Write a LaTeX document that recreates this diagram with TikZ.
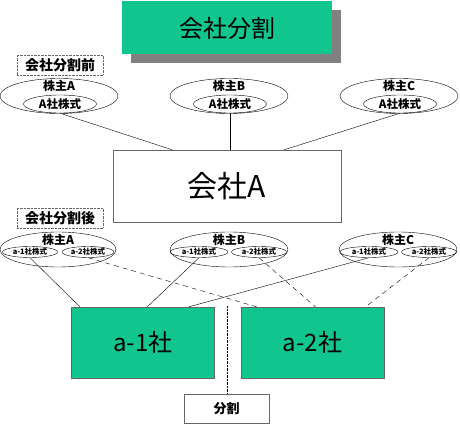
\documentclass[tikz,border=0pt]{standalone}
\usepackage{fontspec}
\setmainfont{Noto Sans CJK JP}
\usepackage{xcolor}
\usetikzlibrary{positioning,shapes.geometric,shadows,calc}
\definecolor{kgreen}{RGB}{16,198,142}

\begin{document}
\begin{tikzpicture}[x=1pt, y=-1pt,
  corp/.style={draw=black!60, fill=kgreen, minimum width=143pt, minimum height=71pt,
               font=\fontsize{24}{26}\selectfont},
  stagetag/.style={draw=black!60, densely dotted, minimum width=86pt, minimum height=20pt,
              inner sep=0pt, font=\bfseries\fontsize{14}{16}\selectfont},
  holder/.style={draw, ellipse, inner sep=0pt},
  share/.style={draw, ellipse, inner sep=0pt, minimum width=73pt, minimum height=18pt,
                font=\bfseries\fontsize{11.5}{12}\selectfont},
  smallshare/.style={draw, ellipse, inner sep=0pt, minimum width=55pt, minimum height=11pt,
                font=\bfseries\fontsize{7.5}{8}\selectfont},
  holdername/.style={font=\bfseries\fontsize{12}{13}\selectfont, inner sep=0pt},
  own/.style={thin},
  own2/.style={thin, dash pattern=on 5pt off 4pt}
]
  \useasboundingbox (0,0) rectangle (460,430);

  % Title
  \node[fill=kgreen, minimum width=210pt, minimum height=53pt,
        drop shadow={shadow xshift=9pt, shadow yshift=-9pt, fill=black!50, opacity=1},
        font=\fontsize{24}{26}\selectfont] (title) at (227,28) {会社分割};

  % Before the split
  \node[stagetag] (before) at (60,65) {会社分割前};

  \node[holder, minimum width=118pt, minimum height=35pt] (hA) at (59,96) {};
  \node[holdername] (nA) at (59,86) {株主A};
  \node[share] (sA) at (60,104) {A社株式};

  \node[holder, minimum width=118pt, minimum height=35pt] (hB) at (229,96) {};
  \node[holdername] (nB) at (229,86) {株主B};
  \node[share] (sB) at (230,104) {A社株式};

  \node[holder, minimum width=118pt, minimum height=35pt] (hC) at (399,96) {};
  \node[holdername] (nC) at (399,86) {株主C};
  \node[share] (sC) at (400,104) {A社株式};

  \node[draw=black!60, minimum width=228pt, minimum height=72pt,
        font=\fontsize{30}{32}\selectfont] (coA) at (227,186) {会社A};

  \draw[own] (sA.south) -- ($(coA.north west)!0.26!(coA.north east)$);
  \draw[own] (sB.south) -- (sB.south |- coA.north);
  \draw[own] (sC.south) -- ($(coA.north west)!0.75!(coA.north east)$);

  % After the split
  \node[stagetag] (after) at (60,218) {会社分割後};

  \node[holder, minimum width=116pt, minimum height=35pt] (kA) at (58,249.5) {};
  \node[holdername] (mA) at (58,240) {株主A};
  \node[smallshare] (kA1) at (30,252) {a-1社株式};
  \node[smallshare, minimum width=52pt] (kA2) at (88,252) {a-2社株式};

  \node[holder, minimum width=118pt, minimum height=35pt] (kB) at (229,249.5) {};
  \node[holdername] (mB) at (229,240) {株主B};
  \node[smallshare, minimum width=58pt] (kB1) at (199,252) {a-1社株式};
  \node[smallshare] (kB2) at (259,252) {a-2社株式};

  \node[holder, minimum width=118pt, minimum height=35pt] (kC) at (398,249.5) {};
  \node[holdername] (mC) at (398,240) {株主C};
  \node[smallshare, minimum width=58pt] (kC1) at (369,252) {a-1社株式};
  \node[smallshare] (kC2) at (429,252) {a-2社株式};

  \node[corp] (a1) at (143,342.5) {a-1社};
  \node[corp] (a2) at (312.5,342.5) {a-2社};

  \draw[own] (kA1.south) -- ($(a1.north west)!0.06!(a1.north east)$);
  \draw[own] (kB1.south) -- ($(a1.north west)!0.53!(a1.north east)$);
  \draw[own] (kC1.south) -- ($(a1.north west)!0.82!(a1.north east)$);
  \draw[own2] (kA2.south) -- ($(a2.north west)!0.11!(a2.north east)$);
  \draw[own2] (kB2.south) -- ($(a2.north west)!0.52!(a2.north east)$);
  \draw[own2] (kC2.south) -- ($(a2.north west)!0.87!(a2.north east)$);

  % Split marker
  \node[draw=black!60, minimum width=85pt, minimum height=29pt,
        font=\bfseries\fontsize{13}{15}\selectfont] (split) at (226.5,408.5) {分割};
  \coordinate (splittop) at (227,306);
  \draw[densely dotted] (splittop) -- (splittop |- split.north);
\end{tikzpicture}
\end{document}
